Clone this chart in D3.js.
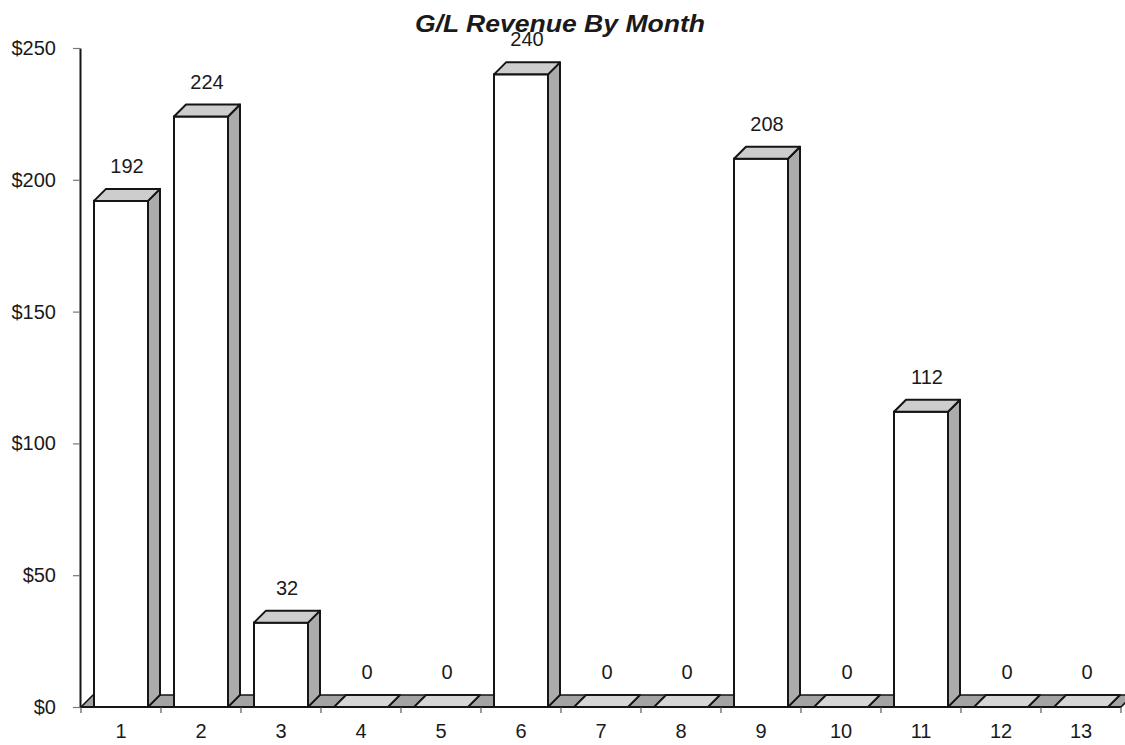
<!DOCTYPE html>
<html>
<head>
<meta charset="utf-8">
<script src="https://cdn.jsdelivr.net/npm/d3@7"></script>
<style>
  html, body { margin: 0; padding: 0; background: #fff; }
  svg { display: block; }
  text { font-family: "Liberation Sans", Arial, sans-serif; fill: #1a1a1a; }
</style>
</head>
<body>
<svg id="chart" width="1125" height="745"></svg>
<script>
const title = "G/L Revenue By Month";
const months = ["1","2","3","4","5","6","7","8","9","10","11","12","13"];
const revenue = [192, 224, 32, 0, 0, 240, 0, 0, 208, 0, 112, 0, 0];
const yTicks = [0, 50, 100, 150, 200, 250];

const W = 1125, H = 745;
const svg = d3.select("#chart");

const x = d3.scaleBand().domain(months).range([81, 1121]).padding(0);
const y = d3.scaleLinear().domain([0, 250]).range([707, 48]);

const DX = 12, DY = 12;     // 3D depth offset
const OFF = 13, BW = 54;    // bar front offset within band, bar front width
const stroke = "#151515";

// floor
const x0 = x.range()[0], x1 = x.range()[1], y0 = y(0);
svg.append("path")
  .attr("d", `M${x0},${y0} L${x1},${y0} L${x1+DX},${y0-DY} L${x0+DX},${y0-DY} Z`)
  .attr("fill", "#a3a3a3").attr("stroke", stroke).attr("stroke-width", 1.6)
  .attr("stroke-linejoin", "round");

// bars
const data = months.map((m, i) => ({ m, v: revenue[i] }));
const g = svg.append("g");
data.forEach(d => {
  const bx = x(d.m) + OFF, bx2 = bx + BW, ty = y(d.v);
  const bar = g.append("g");
  if (d.v > 0) {
    // side
    bar.append("path")
      .attr("d", `M${bx2},${ty} L${bx2+DX},${ty-DY} L${bx2+DX},${y0-DY} L${bx2},${y0} Z`)
      .attr("fill", "#ababab").attr("stroke", stroke).attr("stroke-width", 2)
      .attr("stroke-linejoin", "round");
    // front
    bar.append("rect")
      .attr("x", bx).attr("y", ty).attr("width", BW).attr("height", y0 - ty)
      .attr("fill", "#ffffff").attr("stroke", stroke).attr("stroke-width", 2);
  }
  // top
  bar.append("path")
    .attr("d", `M${bx},${ty} L${bx2},${ty} L${bx2+DX},${ty-DY} L${bx+DX},${ty-DY} Z`)
    .attr("fill", d.v > 0 ? "#cdcdcd" : "#d6d6d6").attr("stroke", stroke).attr("stroke-width", 2)
    .attr("stroke-linejoin", "round");
  // value label
  svg.append("text")
    .attr("x", bx + BW / 2 + DX / 2)
    .attr("y", ty - DY - 16)
    .attr("text-anchor", "middle")
    .attr("font-size", 20)
    .text(d.v);
});

// baseline
svg.append("line").attr("x1", x0).attr("x2", x1).attr("y1", y0).attr("y2", y0)
  .attr("stroke", stroke).attr("stroke-width", 2);

// x boundary ticks
svg.append("g").selectAll("line").data(months.concat(["end"])).join("line")
  .attr("x1", (d, i) => x0 + i * x.bandwidth())
  .attr("x2", (d, i) => x0 + i * x.bandwidth())
  .attr("y1", y0).attr("y2", y0 + 6)
  .attr("stroke", "#555").attr("stroke-width", 1.2);

// x labels
const xAxis = svg.append("g").attr("transform", `translate(0,${y0})`)
  .call(d3.axisBottom(x).tickSize(0).tickPadding(17));
xAxis.select(".domain").remove();
xAxis.selectAll("text").attr("font-size", 20).attr("font-family", "Liberation Sans, Arial, sans-serif").attr("fill", "#1a1a1a");

// y axis
const yAxis = svg.append("g").attr("transform", `translate(80,0)`)
  .call(d3.axisLeft(y).tickValues(yTicks).tickFormat(d => "$" + d).tickSize(7).tickSizeOuter(0).tickPadding(17));
yAxis.select(".domain").attr("stroke", stroke).attr("stroke-width", 2);
yAxis.selectAll(".tick line").attr("stroke", "#777").attr("stroke-width", 1.2);
yAxis.selectAll("text").attr("font-size", 20).attr("font-family", "Liberation Sans, Arial, sans-serif").attr("fill", "#1a1a1a");

// title
svg.append("text")
  .attr("x", 560).attr("y", 32)
  .attr("text-anchor", "middle")
  .attr("font-size", 24).attr("font-weight", "bold").attr("font-style", "italic")
  .attr("textLength", 290).attr("lengthAdjust", "spacingAndGlyphs")
  .text(title);
</script>
</body>
</html>
